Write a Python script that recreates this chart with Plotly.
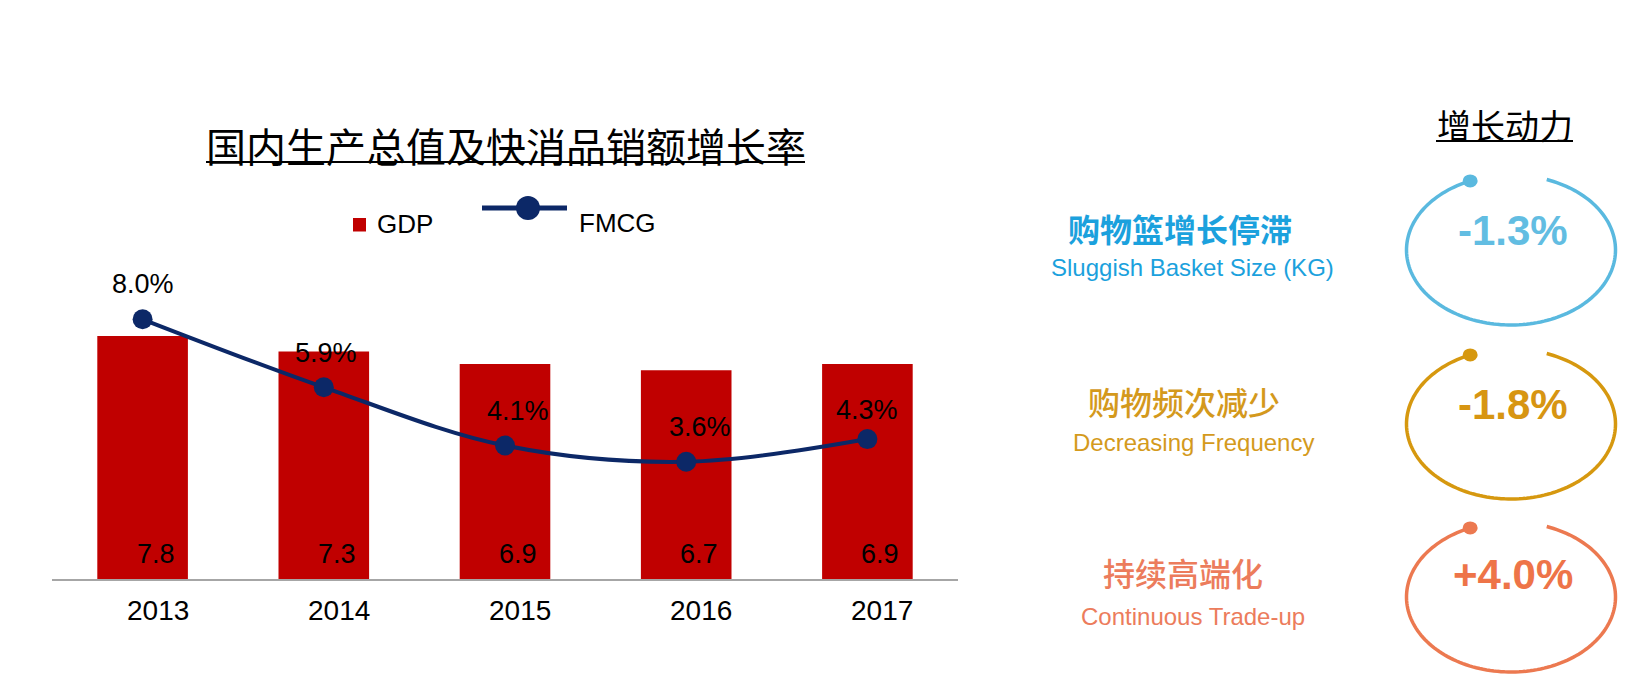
import numpy as np
import plotly.graph_objects as go

# ---------------- data ----------------
years = ["2013", "2014", "2015", "2016", "2017"]
gdp = [7.8, 7.3, 6.9, 6.7, 6.9]
fmcg = [8.0, 5.9, 4.1, 3.6, 4.3]
gdp_labels = ["7.8", "7.3", "6.9", "6.7", "6.9"]
fmcg_labels = ["8.0%", "5.9%", "4.1%", "3.6%", "4.3%"]

title_text = "国内生产总值及快消品销额增长率"
side_title = "增长动力"
drivers_cn = ["购物篮增长停滞", "购物频次减少", "持续高端化"]
drivers_en = ["Sluggish Basket Size (KG)", "Decreasing Frequency", "Continuous Trade-up"]
drivers_val = ["-1.3%", "-1.8%", "+4.0%"]

# ---------------- style ----------------
W, H = 1636, 684
RED = "#c00000"
NAVY = "#0c2867"
AXIS_GREY = "#a6a6a6"
LATIN = "Liberation Sans, Arial, sans-serif"
CJK = "Noto Sans CJK SC, sans-serif"
circle_colors = ["#5ab9df", "#d6980f", "#ec7950"]
value_colors = ["#62bde2", "#d79512", "#ee7448"]
cn_colors = ["#1ba1dd", "#d4991c", "#ec7c5c"]
en_colors = ["#1ba1dd", "#d49a1c", "#ec7c5c"]
fmcg_label_shift = [(0, 35), (2, 34), (13, 35), (14, 35), (0, 29)]


def px(x):
    return x / W


def py(y):
    return 1 - y / H


fig = go.Figure()
fig.add_trace(go.Bar(x=years, y=gdp, marker_color=RED, marker_line_width=0,
                     name="GDP", showlegend=False, hoverinfo="skip"))
fig.add_trace(go.Scatter(x=years, y=fmcg, yaxis="y2", mode="lines+markers",
                         line=dict(color=NAVY, width=4, shape="spline"),
                         marker=dict(size=20, color=NAVY),
                         name="FMCG", showlegend=False, hoverinfo="skip"))

ann = []
shapes = []


def text_ann(x, y, text, font, xref="paper", yref="paper", xanchor="center", **kw):
    d = dict(x=x, y=y, xref=xref, yref=yref, text=text, showarrow=False,
             xanchor=xanchor, yanchor="middle", font=font)
    d.update(kw)
    return d


# value labels (category index used for x position)
for i, (v, lab) in enumerate(zip(fmcg, fmcg_labels)):
    dx, dy = fmcg_label_shift[i]
    ann.append(text_ann(i, v, lab, dict(family=LATIN, size=27, color="#000000"),
                        xref="x", yref="y2", xshift=dx, yshift=dy))
for i, lab in enumerate(gdp_labels):
    ann.append(text_ann(i, 0, lab, dict(family=LATIN, size=27, color="#000000"),
                        xref="x", yref="y", xshift=13, yshift=25))
for i, yr in enumerate(years):
    ann.append(text_ann(i, 0, yr, dict(family=LATIN, size=28, color="#000000"),
                        xref="x", yref="y", xshift=15, yshift=-31))

# chart title + underline
ann.append(text_ann(px(506), py(145), title_text, dict(family=CJK, size=40, color="#000000")))
shapes.append(dict(type="line", xref="paper", yref="paper", x0=px(206), x1=px(805),
                   y0=py(162), y1=py(162), line=dict(color="#000000", width=2)))

# custom legend
shapes.append(dict(type="rect", xref="paper", yref="paper", x0=px(353), x1=px(366),
                   y0=py(231.5), y1=py(218), fillcolor=RED, line=dict(width=0)))
ann.append(text_ann(px(375), py(224), "GDP", dict(family=LATIN, size=26, color="#000000"),
                    xanchor="left"))
shapes.append(dict(type="line", xref="paper", yref="paper", x0=px(482), x1=px(567),
                   y0=py(208), y1=py(208), line=dict(color=NAVY, width=5)))
shapes.append(dict(type="circle", xref="paper", yref="paper", x0=px(516), x1=px(540),
                   y0=py(220), y1=py(196), fillcolor=NAVY, line=dict(width=0)))
ann.append(text_ann(px(577), py(223), "FMCG", dict(family=LATIN, size=26, color="#000000"),
                    xanchor="left"))

# right panel title
ann.append(text_ann(px(1504.5), py(125), side_title, dict(family=CJK, size=34, color="#000000")))
shapes.append(dict(type="line", xref="paper", yref="paper", x0=px(1436), x1=px(1573),
                   y0=py(141), y1=py(141), line=dict(color="#000000", width=2)))

# driver rings
centers_y = [250, 424, 597]
cn_pos = [(1180, 228), (1184, 401), (1183, 572)]
en_pos = [(1192, 267), (1193, 442), (1193, 616)]
val_y = [230, 404, 574]
cx, rx, ry = 1511, 104.5, 75
t = np.radians(np.linspace(113, 430, 160))
for k in range(3):
    cy = centers_y[k]
    xs = cx + rx * np.cos(t)
    ys = cy - ry * np.sin(t)
    path = "M " + " L ".join(f"{px(a):.5f},{py(b):.5f}" for a, b in zip(xs, ys))
    shapes.append(dict(type="path", xref="paper", yref="paper", path=path,
                       line=dict(color=circle_colors[k], width=3.5)))
    dxp, dyp = xs[0], ys[0]
    shapes.append(dict(type="circle", xref="paper", yref="paper",
                       x0=px(dxp - 7.5), x1=px(dxp + 7.5), y0=py(dyp + 6.5), y1=py(dyp - 6.5),
                       fillcolor=circle_colors[k], line=dict(width=0)))
    ann.append(text_ann(px(1513), py(val_y[k]), f"<b>{drivers_val[k]}</b>",
                        dict(family=LATIN, size=42, color=value_colors[k])))
    ann.append(text_ann(px(cn_pos[k][0]), py(cn_pos[k][1]), drivers_cn[k],
                        dict(family=CJK, size=32, color=cn_colors[k],
                             weight=600 if k == 0 else 500)))
    ann.append(text_ann(px(en_pos[k][0]), py(en_pos[k][1]), drivers_en[k],
                        dict(family=LATIN, size=24, color=en_colors[k])))

fig.update_layout(
    width=W, height=H,
    margin=dict(l=0, r=0, t=0, b=0),
    paper_bgcolor="white", plot_bgcolor="white",
    bargap=0.5,
    xaxis=dict(type="category", domain=[px(52), px(958)], range=[-0.5, 4.5],
               showline=True, linecolor=AXIS_GREY, linewidth=2, showgrid=False,
               showticklabels=False, ticks="", zeroline=False, fixedrange=True),
    yaxis=dict(domain=[py(579), py(250)], range=[0, 329 / 31.15], visible=False,
               showgrid=False, zeroline=False, fixedrange=True),
    yaxis2=dict(overlaying="y", range=[-0.0217, 10.14], visible=False,
                showgrid=False, zeroline=False, fixedrange=True),
    annotations=ann,
    shapes=shapes,
    showlegend=False,
)

fig.write_html("out.html", config={"displayModeBar": False},
               post_script="document.body.style.margin='0';document.body.style.overflow='hidden';")
